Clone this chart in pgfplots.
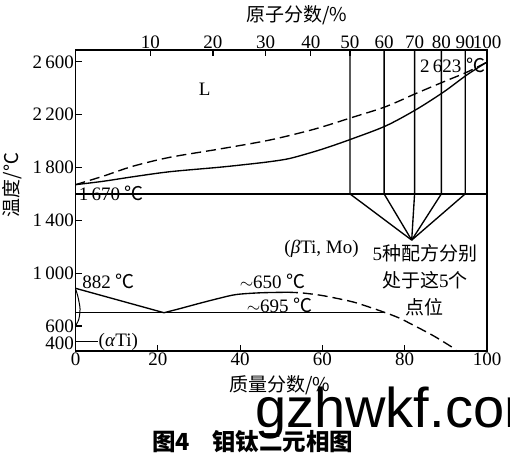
\documentclass[border=0pt]{standalone}
\usepackage{fontspec}
\usepackage{pgfplots}
\pgfplotsset{compat=1.18}
\setmainfont{Liberation Serif}
\newfontfamily\cjk{Noto Sans CJK SC}
\newfontfamily\wm{Liberation Sans}
\newcommand{\degc}{{\cjk ℃}}
\newcommand{\fs}{\fontsize{19}{19}\selectfont}
\tikzset{ln/.style={black, line width=1.35pt, mark=none},
         dsh/.style={ln, dash pattern=on 10pt off 5pt}}
\begin{document}
\begin{tikzpicture}[x=1pt,y=1pt]
\useasboundingbox (0,0) rectangle (510,459);
\clip (0,0) rectangle (510,459);
% bottom / left axis
\begin{axis}[
  at={(75.5pt,108pt)}, anchor=south west, scale only axis,
  width=411.5pt, height=301pt,
  xmin=0, xmax=100, ymin=410, ymax=2690,
  clip=false,
  axis line style={line width=1.2pt},
  tick style={line width=1.2pt, black},
  tick align=inside, major tick length=6pt,
  xtick={0,20,40,60,80,100}, xtick pos=bottom,
  ytick={600,1000,1400,1800,2200,2600}, ytick pos=left,
  /pgf/number format/assume math mode=true,
  /pgf/number format/1000 sep={\,},
  tick label style={font=\fs, inner sep=1.5pt},
]
% liquidus / solidus
\addplot[ln, smooth] coordinates {(0,1670) (6.6,1695) (14,1730) (22.9,1768) (35,1802) (42,1825) (47.2,1844) (52,1868) (58,1920) (62,1960) (67.1,2016) (75.4,2115) (82.9,2241) (89.6,2375) (95.1,2501) (99.8,2595)};
\addplot[dsh, smooth] coordinates {(0,1670) (6.6,1733) (14,1810) (22.9,1877) (35,1940) (47.2,2008) (58,2090) (67.1,2178) (75.4,2261) (82.9,2363) (89.6,2451) (95.1,2522) (99.8,2595)};
% 1600 line
\addplot[ln] coordinates {(0,1600) (100,1600)};
% vertical composition lines
\addplot[ln] coordinates {(66.7,2690) (66.7,1600) (81.7,1250)};
\addplot[ln] coordinates {(75.0,2690) (75.0,1600) (81.7,1250)};
\addplot[ln] coordinates {(82.4,2690) (82.4,1600) (81.7,1250)};
\addplot[ln] coordinates {(88.9,2690) (88.9,1600) (81.7,1250)};
\addplot[ln] coordinates {(94.7,2690) (94.7,1600) (81.7,1250)};
% lower part
\addplot[ln] coordinates {(0,885) (21.5,700)};
\addplot[ln] coordinates {(0,700) (75.2,700)};
\addplot[ln, smooth] coordinates {(21.5,700) (25,728) (30,770) (35,810) (39.1,838) (45,851) (51.6,855)};
\addplot[dsh, smooth] coordinates {(51.6,855) (55,850) (59.4,833) (63,812) (67.4,782) (71,747) (74.7,707) (78.5,662) (82.9,593) (87,525) (91.4,441) (92.5,412)};
\addplot[ln, smooth, line width=1pt] coordinates {(0,882) (0.6,820) (1.1,730) (0.8,650) (0,600)};
\addplot[ln] coordinates {(0,480) (5.4,480)};
% labels
\node[anchor=east, font=\fs, inner sep=1.5pt] at (axis cs:0,465) {400};
\node[font=\fs] at (axis cs:31.4,2390) {L};
\node[anchor=east, font=\fs, inner sep=0pt] at (axis cs:99.6,2570) {2\,623 \degc};
\node[anchor=west, font=\fs, inner sep=0pt] at (axis cs:0.8,1605) {1\,670 \degc};
\node[anchor=west, font=\fs, inner sep=0pt] at (axis cs:1.6,934) {882 \degc};
\node[font=\fs] at (axis cs:47.9,934) {$\sim$650 \degc};
\node[font=\fs] at (axis cs:49.6,757) {$\sim$695 \degc};
\node[anchor=west, font=\fs, inner sep=0pt] at (axis cs:5.6,480) {(\textit{α}Ti)};
\node[font=\fs] at (axis cs:59.8,1187) {(\textit{β}Ti, Mo)};
\node[align=center, font=\cjk\fontsize{19}{27}\selectfont] at (axis cs:84.9,947) {{\rmfamily 5}种配方分别\\处于这{\rmfamily 5}个\\点位};
\end{axis}
% top axis (atomic fraction)
\begin{axis}[
  at={(75.5pt,108pt)}, anchor=south west, scale only axis,
  width=411.5pt, height=301pt,
  xmin=0, xmax=100, ymin=410, ymax=2690,
  axis x line*=top, axis y line=none,
  axis line style={line width=1.2pt, -},
  tick style={line width=1.2pt, black},
  tick align=inside, major tick length=6pt,
  xtick={18.2,33.4,46.2,57.2,66.7,75.0,82.4,88.9,94.7,100},
  xticklabels={10,20,30,40,50,60,70,80,90,100},
  tick label style={font=\fs, inner sep=1.5pt},
]
\addplot[draw=none] coordinates {(0,1000) (100,1000)};
\end{axis}
% axis titles
\node[font=\cjk\fontsize{19}{19}\selectfont] at (297,444) {原子分数/\%};
\node[font=\cjk\fontsize{19}{19}\selectfont] at (280,74) {质量分数/\%};
\node[rotate=90, font=\cjk\fontsize{19}{19}\selectfont] at (12,274) {温度/℃};
% caption
\node[anchor=west, inner sep=0pt, font=\cjk\bfseries\fontsize{23.5}{23.5}\selectfont] at (152,17.3) {图4\hspace{22pt}钼钛二元相图};
% watermark
\node[anchor=base west, inner sep=0pt, font=\wm\fontsize{56}{56}\selectfont] at (255,32) {gzhwkf.com};
\end{tikzpicture}
\end{document}
